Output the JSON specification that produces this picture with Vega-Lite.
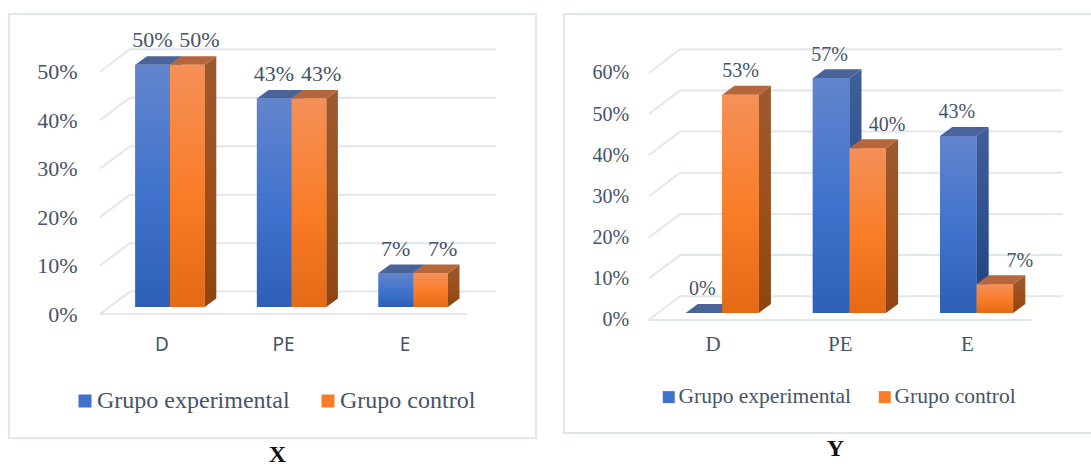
{"$schema":"https://vega.github.io/schema/vega-lite/v6.json","background":"white","padding":{"left":8,"top":13,"right":0,"bottom":0},"spacing":26,
"resolve":{"scale":{"color":"independent"},"legend":{"color":"independent"}},
"datasets":{
"barsX":[{"cat":"D","group":"Grupo experimental","value":50},{"cat":"PE","group":"Grupo experimental","value":43},{"cat":"E","group":"Grupo experimental","value":7},{"cat":"D","group":"Grupo control","value":50},{"cat":"PE","group":"Grupo control","value":43},{"cat":"E","group":"Grupo control","value":7}],
"barsY":[{"cat":"D","group":"Grupo experimental","value":0},{"cat":"PE","group":"Grupo experimental","value":57},{"cat":"E","group":"Grupo experimental","value":43},{"cat":"D","group":"Grupo control","value":53},{"cat":"PE","group":"Grupo control","value":40},{"cat":"E","group":"Grupo control","value":7}],
"ticksX":[{"tick":0},{"tick":10},{"tick":20},{"tick":30},{"tick":40},{"tick":50}],
"ticksY":[{"tick":0},{"tick":10},{"tick":20},{"tick":30},{"tick":40},{"tick":50},{"tick":60}]},
"hconcat":[
{"width":527,"height":424,"view":{"stroke":"#e1e5ec","strokeWidth":2,"fill":"white"},
"title":{"text":"X","orient":"bottom","font":"Liberation Serif","fontSize":24,"fontWeight":"bold","color":"#111111","offset":5,"dx":5},
"resolve":{"axis":{"x":"independent","y":"independent"}},
"layer":[
{"data":{"name":"ticksX"},"transform":[{"calculate":"datum.tick+3.18","as":"yb"},{"calculate":"datum.tick-1.444","as":"yf"},{"calculate":"-0.505","as":"xf"},{"calculate":"-0.258","as":"xb"},{"calculate":"2.752","as":"xe"},{"calculate":"2.509","as":"xfe"}],
"resolve":{"axis":{"x":"independent","y":"independent"}},
"layer":[
{"mark":{"type":"rule","color":"#e2e6ee","strokeWidth":2},"encoding":{
"x":{"field":"xb","type":"quantitative","scale":{"domain":[-1.2533,3.0806],"nice":false,"zero":false},"axis":{"values":[0,1,2],"labelExpr":"['D','PE','E'][datum.value]","domain":false,"ticks":false,"grid":false,"title":null,"offset":-94,"labelPadding":0,"labelBaseline":"middle","labelFont":"Noto Sans","labelFontSize":19,"labelColor":"#44546a","labelFlush":false,"labelOverlap":false}},
"x2":{"field":"xe"},
"y":{"field":"yb","type":"quantitative","scale":{"domain":[-27.03,60.46],"nice":false,"zero":false},"axis":{"values":[0,10,20,30,40,50],"labelExpr":"datum.value+'%'","domain":false,"ticks":false,"grid":false,"title":null,"offset":-68,"labelPadding":0,"labelOffset":7,"labelFont":"Liberation Serif","labelFontSize":22,"labelColor":"#44546a","labelOverlap":false,"labelFlush":false}}}},
{"mark":{"type":"rule","color":"#e2e6ee","strokeWidth":2},"encoding":{
"x":{"field":"xf","type":"quantitative","scale":{"domain":[-1.2533,3.0806],"nice":false,"zero":false},"axis":null},"x2":{"field":"xb"},
"y":{"field":"yf","type":"quantitative","scale":{"domain":[-27.03,60.46],"nice":false,"zero":false},"axis":null},"y2":{"field":"yb"}}},
{"transform":[{"filter":"datum.tick==0"}],"mark":{"type":"rule","color":"#e2e6ee","strokeWidth":2},"encoding":{
"x":{"field":"xf","type":"quantitative","scale":{"domain":[-1.2533,3.0806],"nice":false,"zero":false},"axis":null},"x2":{"field":"xfe"},
"y":{"field":"yf","type":"quantitative","scale":{"domain":[-27.03,60.46],"nice":false,"zero":false},"axis":null}}}
]},
{"data":{"name":"barsX"},"transform":[
{"calculate":"indexof(['D','PE','E'],datum.cat)+(datum.group=='Grupo control'?0.0707:-0.2146)","as":"xl"},
{"calculate":"datum.xl+0.2853","as":"xr"},
{"calculate":"[0,1]","as":"t"},
{"calculate":"(datum.xl+datum.xr)/2+(datum.group=='Grupo control'?0.1:-0.002)","as":"lx"}],
"resolve":{"axis":{"x":"independent","y":"independent"}},
"layer":[
{"mark":{"type":"rect"},
"encoding":{"x":{"field":"xl","type":"quantitative","scale":{"domain":[-1.2533,3.0806],"nice":false,"zero":false},"axis":null},"x2":{"field":"xr"},"y":{"field":"value","type":"quantitative","scale":{"domain":[-27.03,60.46],"nice":false,"zero":false},"axis":null},"y2":{"datum":0},
"color":{"field":"group","type":"nominal","scale":{"domain":["Grupo experimental","Grupo control"],"range":["#3f72cc","#f97c27"]},
"legend":{"orient":"none","legendX":64,"legendY":375,"padding":0,"direction":"horizontal","columns":2,"title":null,"symbolType":"square","symbolSize":169,"symbolStrokeWidth":0,"labelFont":"Liberation Serif","labelFontSize":24,"labelColor":"#44546a","labelOffset":0,"columnPadding":26,"labelLimit":0}}}},
{"transform":[{"filter":"datum.group=='Grupo experimental'"},{"flatten":["t"]},{"calculate":"datum.xr+datum.t*0.0954","as":"sx"},{"calculate":"datum.value+datum.t*1.754","as":"sy"},{"calculate":"datum.t*1.754","as":"sy2"}],
"mark":{"type":"area","orient":"vertical","color":{"gradient":"linear","x1":0,"y1":0,"x2":0,"y2":1,"stops":[{"offset":0,"color":"#3f5f9b"},{"offset":1,"color":"#1f437f"}]}},
"encoding":{"x":{"field":"sx","type":"quantitative","scale":{"domain":[-1.2533,3.0806],"nice":false,"zero":false},"axis":null},"y":{"field":"sy","type":"quantitative","stack":null,"scale":{"domain":[-27.03,60.46],"nice":false,"zero":false},"axis":null},"y2":{"field":"sy2"},"detail":{"field":"cat"}}},
{"transform":[{"filter":"datum.group=='Grupo experimental'"},{"flatten":["t"]},{"calculate":"datum.xl+datum.t*0.0954","as":"tx"},{"calculate":"datum.xr+datum.t*0.0954","as":"tx2"},{"calculate":"datum.value+datum.t*1.754","as":"ty"}],
"mark":{"type":"area","orient":"horizontal","color":"#4a6399"},
"encoding":{"y":{"field":"ty","type":"quantitative","scale":{"domain":[-27.03,60.46],"nice":false,"zero":false},"axis":null},"x":{"field":"tx","type":"quantitative","stack":null,"scale":{"domain":[-1.2533,3.0806],"nice":false,"zero":false},"axis":null},"x2":{"field":"tx2"},"detail":{"field":"cat"}}},
{"transform":[{"filter":"datum.group=='Grupo experimental'"}],"mark":{"type":"rect","color":{"gradient":"linear","x1":0,"y1":0,"x2":0,"y2":1,"stops":[{"offset":0,"color":"#6285cc"},{"offset":0.55,"color":"#3f72cc"},{"offset":1,"color":"#2e5fb5"}]}},
"encoding":{"x":{"field":"xl","type":"quantitative","scale":{"domain":[-1.2533,3.0806],"nice":false,"zero":false},"axis":null},"x2":{"field":"xr"},"y":{"field":"value","type":"quantitative","scale":{"domain":[-27.03,60.46],"nice":false,"zero":false},"axis":null},"y2":{"datum":0}}},
{"transform":[{"filter":"datum.group=='Grupo control'"},{"flatten":["t"]},{"calculate":"datum.xr+datum.t*0.0954","as":"sx"},{"calculate":"datum.value+datum.t*1.754","as":"sy"},{"calculate":"datum.t*1.754","as":"sy2"}],
"mark":{"type":"area","orient":"vertical","color":{"gradient":"linear","x1":0,"y1":0,"x2":0,"y2":1,"stops":[{"offset":0,"color":"#9c5a30"},{"offset":0.55,"color":"#9c4f1a"},{"offset":1,"color":"#8e4510"}]}},
"encoding":{"x":{"field":"sx","type":"quantitative","scale":{"domain":[-1.2533,3.0806],"nice":false,"zero":false},"axis":null},"y":{"field":"sy","type":"quantitative","stack":null,"scale":{"domain":[-27.03,60.46],"nice":false,"zero":false},"axis":null},"y2":{"field":"sy2"},"detail":{"field":"cat"}}},
{"transform":[{"filter":"datum.group=='Grupo control'"},{"flatten":["t"]},{"calculate":"datum.xl+datum.t*0.0954","as":"tx"},{"calculate":"datum.xr+datum.t*0.0954","as":"tx2"},{"calculate":"datum.value+datum.t*1.754","as":"ty"}],
"mark":{"type":"area","orient":"horizontal","color":"#b5663b"},
"encoding":{"y":{"field":"ty","type":"quantitative","scale":{"domain":[-27.03,60.46],"nice":false,"zero":false},"axis":null},"x":{"field":"tx","type":"quantitative","stack":null,"scale":{"domain":[-1.2533,3.0806],"nice":false,"zero":false},"axis":null},"x2":{"field":"tx2"},"detail":{"field":"cat"}}},
{"transform":[{"filter":"datum.group=='Grupo control'"}],"mark":{"type":"rect","color":{"gradient":"linear","x1":0,"y1":0,"x2":0,"y2":1,"stops":[{"offset":0,"color":"#f59058"},{"offset":0.55,"color":"#f97c27"},{"offset":1,"color":"#e46a15"}]}},
"encoding":{"x":{"field":"xl","type":"quantitative","scale":{"domain":[-1.2533,3.0806],"nice":false,"zero":false},"axis":null},"x2":{"field":"xr"},"y":{"field":"value","type":"quantitative","scale":{"domain":[-27.03,60.46],"nice":false,"zero":false},"axis":null},"y2":{"datum":0}}},
{"transform":[{"calculate":"datum.value+'%'","as":"pct"}],"mark":{"type":"text","font":"Liberation Serif","fontSize":22,"color":"#44546a","baseline":"middle","dy":-24.5},
"encoding":{"x":{"field":"lx","type":"quantitative","scale":{"domain":[-1.2533,3.0806],"nice":false,"zero":false},"axis":null},"y":{"field":"value","type":"quantitative","scale":{"domain":[-27.03,60.46],"nice":false,"zero":false},"axis":null},"text":{"field":"pct","type":"nominal"}}}
]}
]},
{"width":529,"height":419,"view":{"stroke":"#e1e5ec","strokeWidth":2,"fill":"white"},
"title":{"text":"Y","orient":"bottom","font":"Liberation Serif","fontSize":24,"fontWeight":"bold","color":"#111111","offset":4,"dx":7},
"resolve":{"axis":{"x":"independent","y":"independent"}},
"layer":[
{"data":{"name":"ticksY"},"transform":[{"calculate":"datum.tick+4.06","as":"yb"},{"calculate":"datum.tick-1.7","as":"yf"},{"calculate":"-0.5008","as":"xf"},{"calculate":"-0.2555","as":"xb"},{"calculate":"2.754","as":"xe"},{"calculate":"2.51","as":"xfe"}],
"resolve":{"axis":{"x":"independent","y":"independent"}},
"layer":[
{"mark":{"type":"rule","color":"#e2e6ee","strokeWidth":2},"encoding":{
"x":{"field":"xb","type":"quantitative","scale":{"domain":[-1.1675,2.9914],"nice":false,"zero":false},"axis":{"values":[0,1,2],"labelExpr":"['D','PE','E'][datum.value]","domain":false,"ticks":false,"grid":false,"title":null,"offset":-89,"labelPadding":0,"labelBaseline":"middle","labelFont":"Liberation Serif","labelFontSize":21,"labelColor":"#44546a","labelFlush":false,"labelOverlap":false}},
"x2":{"field":"xe"},
"y":{"field":"yb","type":"quantitative","scale":{"domain":[-29.15,72.63],"nice":false,"zero":false},"axis":{"values":[0,10,20,30,40,50,60],"labelExpr":"datum.value+'%'","domain":false,"ticks":false,"grid":false,"title":null,"offset":-64.6,"labelPadding":0,"labelOffset":7,"labelFont":"Liberation Serif","labelFontSize":20,"labelColor":"#44546a","labelOverlap":false,"labelFlush":false}}}},
{"mark":{"type":"rule","color":"#e2e6ee","strokeWidth":2},"encoding":{
"x":{"field":"xf","type":"quantitative","scale":{"domain":[-1.1675,2.9914],"nice":false,"zero":false},"axis":null},"x2":{"field":"xb"},
"y":{"field":"yf","type":"quantitative","scale":{"domain":[-29.15,72.63],"nice":false,"zero":false},"axis":null},"y2":{"field":"yb"}}},
{"transform":[{"filter":"datum.tick==0"}],"mark":{"type":"rule","color":"#e2e6ee","strokeWidth":2},"encoding":{
"x":{"field":"xf","type":"quantitative","scale":{"domain":[-1.1675,2.9914],"nice":false,"zero":false},"axis":null},"x2":{"field":"xfe"},
"y":{"field":"yf","type":"quantitative","scale":{"domain":[-29.15,72.63],"nice":false,"zero":false},"axis":null}}}
]},
{"data":{"name":"barsY"},"transform":[
{"calculate":"indexof(['D','PE','E'],datum.cat)+(datum.group=='Grupo control'?0.0763:-0.2115)","as":"xl"},
{"calculate":"datum.xl+0.287","as":"xr"},
{"calculate":"[0,1]","as":"t"},
{"calculate":"(datum.xl+datum.xr)/2+(datum.group=='Grupo control'?(datum.cat=='D'?0:(datum.cat=='PE'?0.152:0.197)):-0.012)","as":"lx"}],
"resolve":{"axis":{"x":"independent","y":"independent"}},
"layer":[
{"mark":{"type":"rect"},
"encoding":{"x":{"field":"xl","type":"quantitative","scale":{"domain":[-1.1675,2.9914],"nice":false,"zero":false},"axis":null},"x2":{"field":"xr"},"y":{"field":"value","type":"quantitative","scale":{"domain":[-29.15,72.63],"nice":false,"zero":false},"axis":null},"y2":{"datum":0},
"color":{"field":"group","type":"nominal","scale":{"domain":["Grupo experimental","Grupo control"],"range":["#3f72cc","#f97c27"]},
"legend":{"orient":"none","legendX":94,"legendY":372,"padding":0,"direction":"horizontal","columns":2,"title":null,"symbolType":"square","symbolSize":144,"symbolStrokeWidth":0,"labelFont":"Liberation Serif","labelFontSize":21.5,"labelColor":"#44546a","labelOffset":-1,"columnPadding":22,"labelLimit":0}}}},
{"transform":[{"filter":"datum.group=='Grupo experimental'"},{"flatten":["t"]},{"calculate":"datum.xr+datum.t*0.0959","as":"sx"},{"calculate":"datum.value+datum.t*2.186","as":"sy"},{"calculate":"datum.t*2.186","as":"sy2"}],
"mark":{"type":"area","orient":"vertical","color":{"gradient":"linear","x1":0,"y1":0,"x2":0,"y2":1,"stops":[{"offset":0,"color":"#3f5f9b"},{"offset":1,"color":"#1f437f"}]}},
"encoding":{"x":{"field":"sx","type":"quantitative","scale":{"domain":[-1.1675,2.9914],"nice":false,"zero":false},"axis":null},"y":{"field":"sy","type":"quantitative","stack":null,"scale":{"domain":[-29.15,72.63],"nice":false,"zero":false},"axis":null},"y2":{"field":"sy2"},"detail":{"field":"cat"}}},
{"transform":[{"filter":"datum.group=='Grupo experimental'"},{"flatten":["t"]},{"calculate":"datum.xl+datum.t*0.0959","as":"tx"},{"calculate":"datum.xr+datum.t*0.0959","as":"tx2"},{"calculate":"datum.value+datum.t*2.186","as":"ty"}],
"mark":{"type":"area","orient":"horizontal","color":"#4a6399"},
"encoding":{"y":{"field":"ty","type":"quantitative","scale":{"domain":[-29.15,72.63],"nice":false,"zero":false},"axis":null},"x":{"field":"tx","type":"quantitative","stack":null,"scale":{"domain":[-1.1675,2.9914],"nice":false,"zero":false},"axis":null},"x2":{"field":"tx2"},"detail":{"field":"cat"}}},
{"transform":[{"filter":"datum.group=='Grupo experimental'"}],"mark":{"type":"rect","color":{"gradient":"linear","x1":0,"y1":0,"x2":0,"y2":1,"stops":[{"offset":0,"color":"#6285cc"},{"offset":0.55,"color":"#3f72cc"},{"offset":1,"color":"#2e5fb5"}]}},
"encoding":{"x":{"field":"xl","type":"quantitative","scale":{"domain":[-1.1675,2.9914],"nice":false,"zero":false},"axis":null},"x2":{"field":"xr"},"y":{"field":"value","type":"quantitative","scale":{"domain":[-29.15,72.63],"nice":false,"zero":false},"axis":null},"y2":{"datum":0}}},
{"transform":[{"filter":"datum.group=='Grupo control'"},{"flatten":["t"]},{"calculate":"datum.xr+datum.t*0.0959","as":"sx"},{"calculate":"datum.value+datum.t*2.186","as":"sy"},{"calculate":"datum.t*2.186","as":"sy2"}],
"mark":{"type":"area","orient":"vertical","color":{"gradient":"linear","x1":0,"y1":0,"x2":0,"y2":1,"stops":[{"offset":0,"color":"#9c5a30"},{"offset":0.55,"color":"#9c4f1a"},{"offset":1,"color":"#8e4510"}]}},
"encoding":{"x":{"field":"sx","type":"quantitative","scale":{"domain":[-1.1675,2.9914],"nice":false,"zero":false},"axis":null},"y":{"field":"sy","type":"quantitative","stack":null,"scale":{"domain":[-29.15,72.63],"nice":false,"zero":false},"axis":null},"y2":{"field":"sy2"},"detail":{"field":"cat"}}},
{"transform":[{"filter":"datum.group=='Grupo control'"},{"flatten":["t"]},{"calculate":"datum.xl+datum.t*0.0959","as":"tx"},{"calculate":"datum.xr+datum.t*0.0959","as":"tx2"},{"calculate":"datum.value+datum.t*2.186","as":"ty"}],
"mark":{"type":"area","orient":"horizontal","color":"#b5663b"},
"encoding":{"y":{"field":"ty","type":"quantitative","scale":{"domain":[-29.15,72.63],"nice":false,"zero":false},"axis":null},"x":{"field":"tx","type":"quantitative","stack":null,"scale":{"domain":[-1.1675,2.9914],"nice":false,"zero":false},"axis":null},"x2":{"field":"tx2"},"detail":{"field":"cat"}}},
{"transform":[{"filter":"datum.group=='Grupo control'"}],"mark":{"type":"rect","color":{"gradient":"linear","x1":0,"y1":0,"x2":0,"y2":1,"stops":[{"offset":0,"color":"#f59058"},{"offset":0.55,"color":"#f97c27"},{"offset":1,"color":"#e46a15"}]}},
"encoding":{"x":{"field":"xl","type":"quantitative","scale":{"domain":[-1.1675,2.9914],"nice":false,"zero":false},"axis":null},"x2":{"field":"xr"},"y":{"field":"value","type":"quantitative","scale":{"domain":[-29.15,72.63],"nice":false,"zero":false},"axis":null},"y2":{"datum":0}}},
{"transform":[{"calculate":"datum.value+'%'","as":"pct"}],"mark":{"type":"text","font":"Liberation Serif","fontSize":20,"color":"#44546a","baseline":"middle","dy":-23.5},
"encoding":{"x":{"field":"lx","type":"quantitative","scale":{"domain":[-1.1675,2.9914],"nice":false,"zero":false},"axis":null},"y":{"field":"value","type":"quantitative","scale":{"domain":[-29.15,72.63],"nice":false,"zero":false},"axis":null},"text":{"field":"pct","type":"nominal"}}}
]}
]}
]}
